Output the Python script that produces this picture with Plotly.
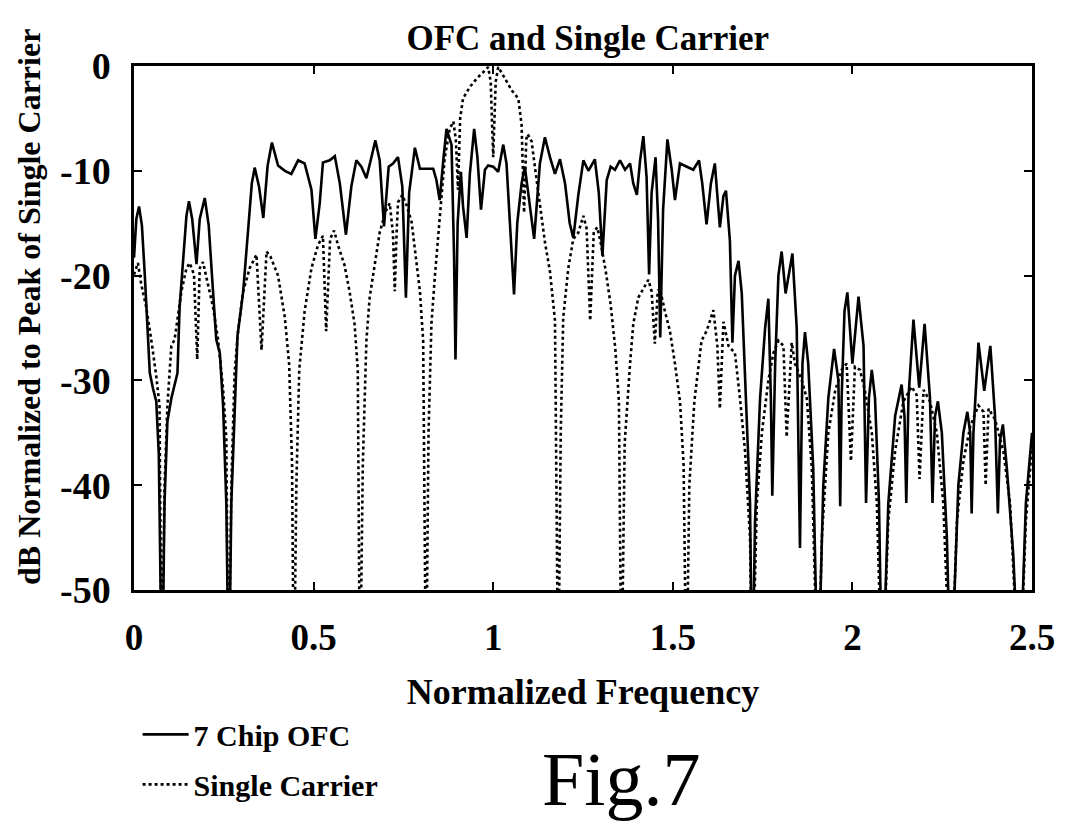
import plotly.graph_objects as go

# ---- data ----
ofc_freq = [0, 0.0065, 0.014, 0.022, 0.030, 0.037, 0.044, 0.053, 0.062, 0.069, 0.074, 0.078, 0.085, 0.093,
            0.104, 0.121, 0.127, 0.137, 0.146, 0.153, 0.162, 0.174, 0.183, 0.197, 0.208, 0.220, 0.229, 0.239,
            0.248, 0.257, 0.264, 0.271, 0.280, 0.288, 0.304, 0.318, 0.328, 0.336, 0.348, 0.360, 0.372, 0.384,
            0.401, 0.420, 0.438, 0.457, 0.475, 0.494, 0.505, 0.517, 0.526, 0.545, 0.559, 0.573, 0.590, 0.605,
            0.619, 0.633, 0.647, 0.661, 0.672, 0.684, 0.696, 0.709, 0.721, 0.735, 0.747, 0.757, 0.766, 0.782,
            0.796, 0.815, 0.833, 0.842, 0.851, 0.861, 0.870, 0.884, 0.891, 0.895, 0.901, 0.910, 0.916, 0.926,
            0.935, 0.947, 0.956, 0.966, 0.977, 0.986, 1.000, 1.014, 1.028, 1.037, 1.046, 1.058, 1.067, 1.079,
            1.088, 1.098, 1.114, 1.130, 1.144, 1.158, 1.172, 1.186, 1.200, 1.213, 1.223, 1.237, 1.251, 1.265,
            1.283, 1.294, 1.304, 1.316, 1.327, 1.339, 1.353, 1.367, 1.381, 1.390, 1.400, 1.409, 1.418, 1.427,
            1.434, 1.441, 1.452, 1.459, 1.465, 1.473, 1.485, 1.497, 1.506, 1.520, 1.539, 1.557, 1.573, 1.582,
            1.594, 1.606, 1.617, 1.622, 1.631, 1.641, 1.648, 1.659, 1.666, 1.673, 1.683, 1.692, 1.701, 1.715,
            1.721, 1.729, 1.743, 1.757, 1.766, 1.773, 1.777, 1.785, 1.794, 1.803, 1.814, 1.833, 1.845, 1.854,
            1.861, 1.868, 1.877, 1.891, 1.904, 1.919, 1.933, 1.949, 1.961, 1.966, 1.970, 1.978, 1.986, 2.000,
            2.017, 2.031, 2.038, 2.046, 2.054, 2.063, 2.074, 2.083, 2.100, 2.119, 2.137, 2.145, 2.150, 2.156,
            2.170, 2.186, 2.201, 2.216, 2.223, 2.230, 2.238, 2.249, 2.263, 2.274, 2.295, 2.309, 2.320, 2.328,
            2.332, 2.337, 2.351, 2.367, 2.384, 2.397, 2.405, 2.411, 2.419, 2.430, 2.448, 2.465, 2.483, 2.495,
            2.500]
ofc_db = [-18.3, -14.6, -13.4, -15.2, -19.9, -24.6, -29.3, -30.8, -32.0, -37.0, -44.8, -60, -41.7, -33.9,
          -31.7, -29.3, -23.0, -18.3, -14.3, -12.9, -14.6, -18.9, -14.6, -12.6, -15.2, -21.5, -26.1, -27.4,
          -32.4, -41.7, -60, -41.7, -33.9, -25.8, -21.5, -15.2, -11.2, -9.7, -11.5, -14.5, -9.5, -7.3,
          -9.5, -10.0, -10.3, -9.0, -9.3, -11.8, -16.5, -13.1, -9.2, -9.0, -8.6, -11.2, -16.1, -11.5,
          -9.0, -9.6, -10.7, -8.7, -7.1, -9.0, -15.3, -9.6, -9.3, -8.7, -11.5, -22.1, -12.1, -7.8,
          -9.8, -9.8, -9.8, -10.9, -12.8, -9.0, -6.0, -7.5, -18.1, -28.0, -15.0, -10.1, -13.4, -16.4,
          -10.3, -6.0, -8.7, -13.7, -9.9, -9.5, -9.6, -10.1, -7.5, -9.3, -15.0, -21.8, -15.0, -11.2,
          -9.6, -12.4, -16.5, -9.3, -6.8, -8.7, -10.3, -8.9, -11.2, -15.0, -16.4, -12.3, -9.0, -10.0,
          -8.9, -12.1, -18.1, -10.9, -9.6, -9.9, -9.0, -9.9, -9.3, -11.2, -12.3, -9.0, -6.7, -10.6,
          -19.9, -12.1, -8.7, -14.6, -25.9, -13.7, -7.0, -9.9, -12.8, -9.3, -9.6, -9.9, -9.0, -11.2,
          -15.1, -11.2, -9.3, -11.5, -15.4, -12.4, -11.9, -16.7, -26.4, -20.0, -18.6, -21.7, -30.0, -41.7,
          -60, -43.4, -31.7, -25.0, -22.2, -31.7, -41.0, -28.4, -20.0, -17.7, -21.7, -17.9, -25.0, -46.0,
          -28.4, -25.4, -28.4, -38.4, -60, -40.0, -31.7, -27.0, -30.0, -42.0, -31.7, -23.4, -21.6, -28.4,
          -22.0, -26.7, -41.7, -31.7, -29.0, -31.7, -41.7, -60, -41.7, -33.4, -30.4, -33.4, -41.7, -31.7,
          -24.2, -30.7, -24.6, -31.7, -41.7, -33.4, -32.0, -35.0, -45.0, -60, -40.0, -35.0, -33.0, -35.0,
          -42.7, -35.0, -26.4, -31.0, -26.7, -33.4, -42.7, -35.7, -34.2, -38.4, -46.7, -60, -41.7, -36.4,
          -35.0]

sc_freq = [0, 0.011, 0.020, 0.034, 0.048, 0.062, 0.071, 0.077, 0.085, 0.093, 0.104, 0.113, 0.132, 0.146,
           0.155, 0.167, 0.176, 0.183, 0.192, 0.206, 0.220, 0.234, 0.248, 0.257, 0.263, 0.271, 0.280, 0.290,
           0.304, 0.322, 0.341, 0.355, 0.369, 0.380, 0.401, 0.420, 0.432, 0.440, 0.445, 0.452, 0.460, 0.475,
           0.494, 0.512, 0.526, 0.535, 0.546, 0.557, 0.568, 0.586, 0.600, 0.614, 0.623, 0.629, 0.637, 0.647,
           0.656, 0.670, 0.684, 0.700, 0.712, 0.721, 0.726, 0.731, 0.735, 0.747, 0.759, 0.773, 0.786, 0.796,
           0.805, 0.813, 0.820, 0.828, 0.838, 0.847, 0.856, 0.865, 0.879, 0.889, 0.896, 0.902, 0.908, 0.916,
           0.935, 0.954, 0.972, 0.986, 0.993, 1.000, 1.007, 1.014, 1.033, 1.051, 1.070, 1.079, 1.086, 1.092,
           1.096, 1.107, 1.116, 1.130, 1.144, 1.158, 1.172, 1.181, 1.188, 1.195, 1.209, 1.223, 1.237, 1.251,
           1.260, 1.270, 1.280, 1.290, 1.300, 1.313, 1.327, 1.340, 1.350, 1.357, 1.366, 1.381, 1.390, 1.404,
           1.423, 1.432, 1.441, 1.450, 1.458, 1.464, 1.478, 1.492, 1.506, 1.520, 1.530, 1.538, 1.546, 1.560,
           1.580, 1.594, 1.613, 1.624, 1.631, 1.641, 1.655, 1.673, 1.687, 1.701, 1.715, 1.721, 1.734, 1.748,
           1.766, 1.780, 1.794, 1.808, 1.817, 1.831, 1.840, 1.859, 1.873, 1.887, 1.904, 1.915, 1.933, 1.952,
           1.970, 1.984, 1.996, 2.007, 2.021, 2.035, 2.054, 2.068, 2.083, 2.100, 2.119, 2.142, 2.165, 2.179,
           2.187, 2.198, 2.216, 2.235, 2.253, 2.274, 2.291, 2.309, 2.328, 2.351, 2.365, 2.371, 2.379, 2.397,
           2.420, 2.439, 2.465, 2.483, 2.495, 2.500]
sc_db = [-19.9, -18.8, -20.8, -23.0, -26.1, -29.6, -32.4, -60, -40.0, -32.4, -26.7, -26.1, -21.5, -19.3,
         -18.8, -19.9, -28.0, -19.3, -18.7, -20.8, -23.0, -26.1, -30.8, -35.5, -60, -40.0, -29.3, -25.2,
         -21.5, -19.3, -18.0, -27.1, -17.7, -18.2, -20.0, -24.0, -28.5, -38.0, -60, -40.0, -29.0, -23.4,
         -19.3, -17.1, -16.2, -25.3, -16.5, -15.7, -17.1, -19.0, -21.5, -24.6, -29.0, -60, -38.0, -26.2,
         -22.1, -19.0, -15.9, -13.9, -13.1, -16.0, -21.5, -16.0, -13.0, -12.3, -13.3, -14.9, -18.4, -21.5,
         -26.2, -60, -35.0, -24.6, -19.9, -16.2, -12.8, -8.8, -6.0, -5.3, -7.0, -11.8, -5.0, -3.1,
         -2.0, -1.2, -0.6, -0.1, -1.5, -8.7, -1.5, -0.1, -1.2, -2.3, -3.1, -5.6, -14.0, -7.0,
         -6.5, -7.2, -9.6, -13.4, -16.8, -19.6, -24.3, -60, -35.0, -24.0, -19.3, -16.5, -15.9, -14.3,
         -15.5, -24.3, -15.8, -15.4, -17.0, -19.5, -22.8, -27.0, -32.0, -60, -36.0, -28.4, -24.6, -22.1,
         -20.9, -20.4, -21.5, -26.5, -21.5, -21.2, -23.4, -25.3, -28.4, -32.0, -38.0, -60, -40.0, -32.0,
         -26.2, -25.3, -23.3, -26.7, -32.7, -24.4, -26.7, -27.4, -31.7, -36.7, -45.0, -60, -41.7, -35.0,
         -30.0, -27.4, -26.2, -26.7, -35.4, -26.4, -28.4, -30.0, -31.7, -38.4, -60, -45.0, -35.0, -31.0,
         -29.0, -28.4, -37.7, -28.7, -29.0, -31.0, -35.0, -41.7, -60, -43.4, -36.7, -32.0, -30.6, -31.4,
         -39.4, -30.9, -32.0, -35.0, -41.7, -60, -43.4, -37.7, -34.4, -32.4, -33.0, -40.0, -32.7, -33.7,
         -36.7, -41.7, -60, -43.4, -38.4, -36.0]

x_tick_vals = [0, 0.5, 1, 1.5, 2, 2.5]
x_tick_text = ["0", "0.5", "1", "1.5", "2", "2.5"]
y_tick_vals = [0, -10, -20, -30, -40, -50]
y_tick_text = ["0", "-10", "-20", "-30", "-40", "-50"]

series_names = ["7 Chip OFC", "Single Carrier"]

FONT = "Liberation Serif"

fig = go.Figure()
fig.add_trace(go.Scatter(x=sc_freq, y=sc_db, mode="lines", name=series_names[1],
                         line=dict(color="black", width=2.6, dash="dot"),
                         legendgroup="b", legendrank=2))
fig.add_trace(go.Scatter(x=ofc_freq, y=ofc_db, mode="lines", name=series_names[0],
                         line=dict(color="black", width=2.6),
                         legendgroup="a", legendrank=1))

axis_common = dict(showline=True, linecolor="black", linewidth=2.5, mirror="allticks",
                   ticks="inside", ticklen=8, tickwidth=2, tickcolor="black",
                   showgrid=False, zeroline=False, automargin=False)

fig.update_xaxes(range=[0, 2.5], tickvals=x_tick_vals, ticktext=x_tick_text,
                 tickfont=dict(family=FONT, size=37, color="black", weight="bold"),
                 ticklabelstandoff=13,
                 title=dict(text="Normalized Frequency", standoff=22,
                            font=dict(family=FONT, size=36, color="black", weight="bold")),
                 **axis_common)
fig.update_yaxes(range=[-50, 0], tickvals=y_tick_vals, ticktext=y_tick_text,
                 tickfont=dict(family=FONT, size=38, color="black", weight="bold"),
                 ticklabelstandoff=13,
                 **axis_common)

# The page body adds an 8 px offset, so the figure is sized/positioned to compensate.
fig.update_layout(
    width=1058, height=815,
    margin=dict(l=126, r=34, t=58, b=221),
    paper_bgcolor="white", plot_bgcolor="white",
    title=dict(text="OFC and Single Carrier", x=0.548, xanchor="center", y=0.963, yanchor="middle",
               font=dict(family=FONT, size=35, color="black", weight="bold")),
    showlegend=True,
    legend=dict(x=0.004, xanchor="left", y=-0.226, yanchor="top",
                font=dict(family=FONT, size=30, color="black", weight="bold"),
                bgcolor="rgba(0,0,0,0)", traceorder="grouped", tracegroupgap=8,
                itemwidth=46),
    annotations=[
        dict(text="dB Normalized to Peak of Single Carrier", textangle=-90,
             x=-0.117, y=0.54, xref="paper", yref="paper",
             xanchor="center", yanchor="middle", showarrow=False,
             font=dict(family=FONT, size=32, color="black", weight="bold")),
        dict(text="Fig.7", x=0.542, y=-0.36, xref="paper", yref="paper",
             xanchor="center", yanchor="middle", showarrow=False,
             font=dict(family=FONT, size=76, color="black")),
    ],
)

fig.write_html("out.html")
